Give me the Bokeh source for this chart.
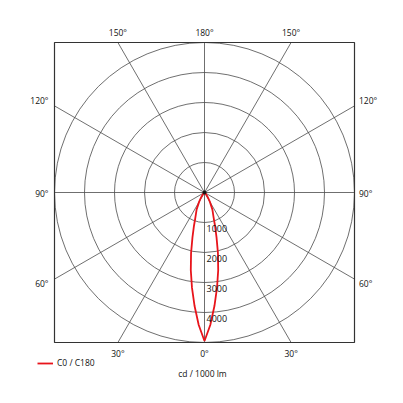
import math
from bokeh.plotting import figure
from bokeh.models import Range1d, Legend, LegendItem
from bokeh.core.properties import value
from bokeh.embed import file_html
from bokeh.resources import INLINE

# ---- data ----
gamma_deg = [0, 2.5, 5, 7.5, 10, 12.5, 15, 17.5, 20, 25, 30, 35, 40, 45, 50, 60, 70, 80, 90]
intensity = [4950, 4420, 3800, 3200, 2630, 2070, 1550, 1170, 890, 620, 360, 190, 90, 40, 15, 0, 0, 0, 0]
ring_values = [1000, 2000, 3000, 4000, 5000]
ring_labels = ["1000", "2000", "3000", "4000"]
spoke_angles = [0, 30, 60, 90, 120, 150, 180, 210, 240, 270, 300, 330]
series_name = "C0 / C180"
unit_label = "cd / 1000 lm"

RMAX = 5000
W = H = 396
PX = 1000 / 30.0          # data units per screen pixel
CX, CY = 204, 192         # centre in frame pixels (from top-left)

FONT = value("Open Sans")
FS = "8.5px"

p = figure(width=W, height=H, output_backend="svg", toolbar_location=None,
           min_border=0, outline_line_color=None,
           x_range=Range1d(-CX * PX, (W - CX) * PX),
           y_range=Range1d(-(H - CY) * PX, CY * PX))
p.axis.visible = False
p.grid.visible = False
p.background_fill_color = "white"

grid_col = "#4a4a4a"

# rings
p.circle(x=[0] * len(ring_values), y=[0] * len(ring_values), radius=ring_values,
         fill_color=None, line_color=grid_col, line_width=0.8)

# spokes from centre to square border
xs, ys = [], []
for a in spoke_angles:
    t = math.radians(a)
    s, c = math.sin(t), -math.cos(t)
    L = RMAX / max(abs(s), abs(c))
    xs.append([0, L * s])
    ys.append([0, L * c])
p.multi_line(xs, ys, line_color=grid_col, line_width=0.8)

# square frame
p.quad(left=[-RMAX], right=[RMAX], bottom=[-RMAX], top=[RMAX],
       fill_color=None, line_color="#333333", line_width=1.2)

# curve (C0 and C180 halves, symmetric)
cx_, cy_ = [], []
for g, i in zip(reversed(gamma_deg), reversed(intensity)):
    t = math.radians(g)
    cx_.append(-i * math.sin(t)); cy_.append(-i * math.cos(t))
for g, i in zip(gamma_deg[1:], intensity[1:]):
    t = math.radians(g)
    cx_.append(i * math.sin(t)); cy_.append(-i * math.cos(t))
curve = p.line(cx_, cy_, line_color="#e8141b", line_width=1.8)

# centre dot
p.scatter([0], [0], size=3, color="#111111")

# ring labels
p.text(x=[2 * PX] * len(ring_labels), y=[-v for v in ring_values[:4]], text=ring_labels,
       text_font=FONT, text_font_size="9px", text_color="#111111",
       text_baseline="middle", text_align="left", y_offset=5.5)

# angle labels
t30 = math.tan(math.radians(30)) * RMAX
top_x = [-t30, 0, t30]
p.text(x=top_x, y=[RMAX + 10 * PX] * 3, text=["150°", "180°", "150°"],
       text_font=FONT, text_font_size=FS, text_color="#111111",
       text_align="center", text_baseline="middle")
p.text(x=top_x, y=[-RMAX - 11 * PX] * 3, text=["30°", "0°", "30°"],
       text_font=FONT, text_font_size=FS, text_color="#111111",
       text_align="center", text_baseline="middle")
side_y = [t30 + 5 * PX, -1 * PX, -t30 - 4.5 * PX]
p.text(x=[-RMAX - 6 * PX] * 3, y=side_y, text=["120°", "90°", "60°"],
       text_font=FONT, text_font_size=FS, text_color="#111111",
       text_align="right", text_baseline="middle")
p.text(x=[RMAX + 4.5 * PX] * 3, y=side_y, text=["120°", "90°", "60°"],
       text_font=FONT, text_font_size=FS, text_color="#111111",
       text_align="left", text_baseline="middle")

# unit label
p.text(x=[-2 * PX], y=[-RMAX - 31 * PX], text=[unit_label],
       text_font=FONT, text_font_size=FS, text_color="#111111",
       text_align="center", text_baseline="middle")

legend = Legend(items=[LegendItem(label=series_name, renderers=[curve])],
                location=(37, 28), padding=0, margin=0, spacing=0,
                glyph_width=16, glyph_height=10, label_height=10,
                label_standoff=4, label_text_font="Open Sans",
                label_text_font_size=FS, label_text_color="#111111",
                background_fill_alpha=0, border_line_alpha=0)
p.add_layout(legend)

open("out.html", "w").write(file_html(p, INLINE))
